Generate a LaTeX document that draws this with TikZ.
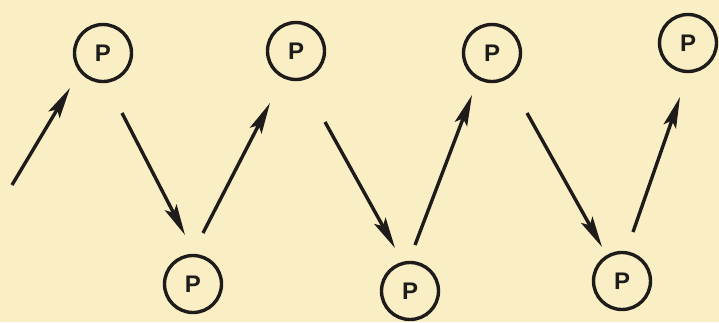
\documentclass[tikz,border=0pt]{standalone}
\usepackage{fontspec}
\setsansfont{Liberation Sans}
\usetikzlibrary{arrows.meta}
\definecolor{paper}{RGB}{250,238,196}
\definecolor{ink}{RGB}{30,28,26}
\begin{document}
\begin{tikzpicture}[x=1pt,y=-1pt,
  pcirc/.style={circle,draw=ink,line width=3.4pt,minimum size=57pt,inner sep=0pt,
    font=\sffamily\bfseries\fontsize{24}{24}\selectfont,text=ink},
  conn/.style={draw=ink,line width=3.4pt,-{Stealth[length=31pt,width=13pt,inset=6pt]}}]
\fill[paper] (0,0) rectangle (719,322);
\useasboundingbox (0,0) rectangle (719,322);
% nodes
\node[pcirc] (t1) at (103,53) {P};
\node[pcirc] (t2) at (296,51) {P};
\node[pcirc] (t3) at (492,53) {P};
\node[pcirc] (t4) at (688,43) {P};
\node[pcirc] (b1) at (193,284) {P};
\node[pcirc] (b2) at (410,291) {P};
\node[pcirc] (b3) at (622,281) {P};
% arrow end points
\coordinate (s0) at (12,185);  \coordinate (e0) at (70,88);
\coordinate (s1) at (122,113); \coordinate (e1) at (185,235);
\coordinate (s2) at (203,233); \coordinate (e2) at (270,103);
\coordinate (s3) at (325,122); \coordinate (e3) at (395,248);
\coordinate (s4) at (415,245); \coordinate (e4) at (472,95);
\coordinate (s5) at (527,113); \coordinate (e5) at (602,247);
\coordinate (s6) at (633,232); \coordinate (e6) at (680,97);
\foreach \i in {0,...,6} {\draw[conn] (s\i) -- (e\i);}
\end{tikzpicture}
\end{document}
